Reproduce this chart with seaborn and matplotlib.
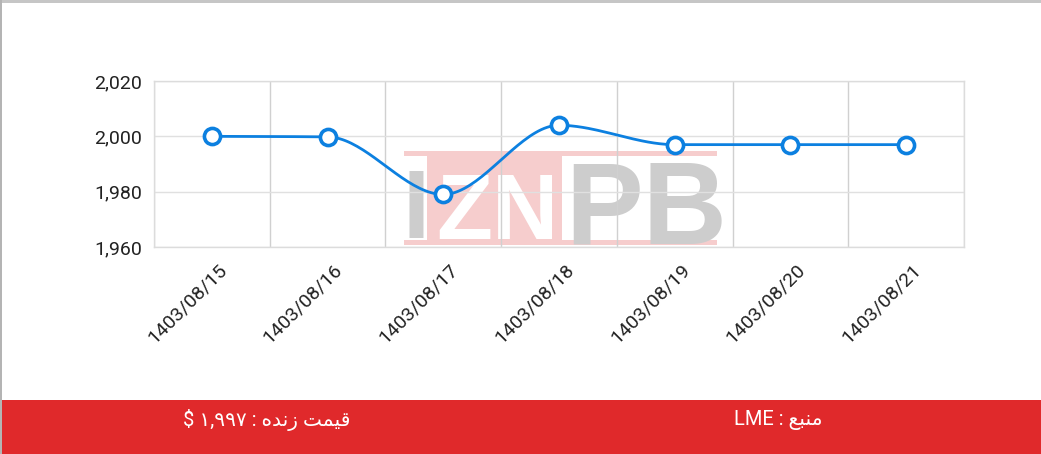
import numpy as np
import pandas as pd
import seaborn as sns
import matplotlib.pyplot as plt
from matplotlib.patches import Rectangle
from matplotlib.transforms import ScaledTranslation

# data
dates = ["1403/08/15", "1403/08/16", "1403/08/17", "1403/08/18",
         "1403/08/19", "1403/08/20", "1403/08/21"]
prices = [2000, 1999.8, 1979, 2004, 1997, 1997, 1997]
y_ticks = [1960, 1980, 2000, 2020]

# Persian labels, shaped by hand (visual order, presentation forms)
live_word = "\uFE96\uFEE4\uFEF4\uFED7"      # قیمت
alive_word = "\uFEE9\uFEAA\uFEE7\uFEAF"     # زنده
source_word = "\uFECA\uFE92\uFEE8\uFEE3"    # منبع
live_label = "$ \u06F1,\u06F9\u06F9\u06F7 : " + alive_word + " " + live_word
source_label = "LME : " + source_word

LINE_BLUE = "#0c80e0"
BAR_RED = "#e0292b"


def monotone_curve(y, n=40):
    # monotone cubic (same idea as d3 curveMonotoneX) for drawing the line
    y = np.asarray(y, float)
    x = np.arange(len(y), dtype=float)
    s = np.diff(y)
    m = np.zeros_like(y)
    for i in range(1, len(y) - 1):
        p = (s[i - 1] + s[i]) / 2
        m[i] = (np.sign(s[i - 1]) + np.sign(s[i])) * min(abs(s[i - 1]), abs(s[i]), 0.5 * abs(p))
    m[0] = (3 * s[0] - m[1]) / 2
    m[-1] = (3 * s[-1] - m[-2]) / 2
    xs, ys = [], []
    for i in range(len(y) - 1):
        t = np.linspace(0, 1, n)
        h00 = 2 * t**3 - 3 * t**2 + 1
        h10 = t**3 - 2 * t**2 + t
        h01 = -2 * t**3 + 3 * t**2
        h11 = t**3 - t**2
        xs.append(x[i] + t)
        ys.append(h00 * y[i] + h10 * m[i] + h01 * y[i + 1] + h11 * m[i + 1])
    return pd.DataFrame({"x": np.concatenate(xs), "y": np.concatenate(ys)})


sns.set_theme(style="white")
plt.rcParams["font.family"] = ["Roboto", "DejaVu Sans"]

fig = plt.figure(figsize=(10.41, 4.54), dpi=100)
W, H = 1041, 454
ax = fig.add_axes([154 / W, 1 - 247 / H, 810 / W, 166 / H])


def ax_frac(px, py):
    return (px - 154) / 810, (247 - py) / 166


# watermark
pink = "#f6cdcd"
wm_gray = "#cdcdcd"
for top, bot in [(151, 156), (240, 245)]:
    x0, y0 = ax_frac(404, bot)
    ax.add_patch(Rectangle((x0, y0), (717 - 404) / 810, (bot - top) / 166,
                           transform=ax.transAxes, color=pink, lw=0, zorder=0.1))
x0, y0 = ax_frac(427, 240)
ax.add_patch(Rectangle((x0, y0), (562 - 427) / 810, 84 / 166,
                       transform=ax.transAxes, color=pink, lw=0, zorder=0.1))
wm_font = dict(family="Liberation Sans", weight="bold", transform=ax.transAxes,
               ha="center", va="baseline", zorder=0.2)
ax.text(*ax_frac(416, 238), "I", color=wm_gray, fontsize=70, **wm_font)
ax.text(*ax_frac(497, 239), "ZN", color="white", fontsize=66, **wm_font)
ax.text(*ax_frac(646, 243), "PB", color=wm_gray, fontsize=84, **wm_font)

# line + markers
curve = monotone_curve(prices)
sns.lineplot(data=curve, x="x", y="y", ax=ax, color=LINE_BLUE, linewidth=2.0,
             zorder=3, sort=False)
points = pd.DataFrame({"x": np.arange(len(dates)), "y": prices})
sns.scatterplot(data=points, x="x", y="y", ax=ax, s=135, color="white",
                edgecolor=LINE_BLUE, linewidth=2.6, zorder=4)

ax.set_xlim(-0.5, len(dates) - 0.5)
ax.set_ylim(y_ticks[0], y_ticks[-1])
ax.set_xticks(np.arange(len(dates)))
ax.set_xticks(np.arange(-0.5, len(dates), 1), minor=True)
ax.set_yticks(y_ticks)
ax.set_yticklabels([f"{v:,}" for v in y_ticks])
ax.set_xticklabels(dates)
ax.set_xlabel("")
ax.set_ylabel("")
ax.set_facecolor("none")
ax.set_axisbelow(True)
ax.grid(which="minor", axis="x", color="#d0d0d0", linewidth=1)
ax.grid(which="major", axis="y", color="#e0e0e0", linewidth=1)
ax.grid(which="major", axis="x", visible=False)
for sp in ax.spines.values():
    sp.set_color("#dcdcdc")
    sp.set_linewidth(1)
ax.tick_params(axis="both", which="both", length=0, labelsize=14, colors="#222222")
ax.tick_params(axis="y", pad=8.5)
ax.tick_params(axis="x", pad=0)

shift = ScaledTranslation(12 / 100, -20 / 100, fig.dpi_scale_trans)
for lab in ax.get_xticklabels():
    lab.set_rotation(45)
    lab.set_ha("right")
    lab.set_va("center")
    lab.set_rotation_mode("anchor")
    lab.set_transform(lab.get_transform() + shift)

# frame decorations
fig.add_artist(Rectangle((0, 1 - 3 / H), 1, 3 / H, transform=fig.transFigure,
                         color="#c6c6c6", lw=0))
fig.add_artist(Rectangle((0, 0), 1.5 / W, 1, transform=fig.transFigure,
                         color="#b4b4b4", lw=0))
fig.add_artist(Rectangle((1.5 / W, 0), 1, 54 / H, transform=fig.transFigure,
                         color=BAR_RED, lw=0))
fig.text(267 / W, 1 - 420 / H, live_label, color="white", fontsize=14.5,
         ha="center", va="center", family=["Roboto", "DejaVu Sans"])
fig.text(778 / W, 1 - 420 / H, source_label, color="white", fontsize=14.5,
         ha="center", va="center", family=["Roboto", "DejaVu Sans"])

fig.savefig("out.png", dpi=100, facecolor="white")
